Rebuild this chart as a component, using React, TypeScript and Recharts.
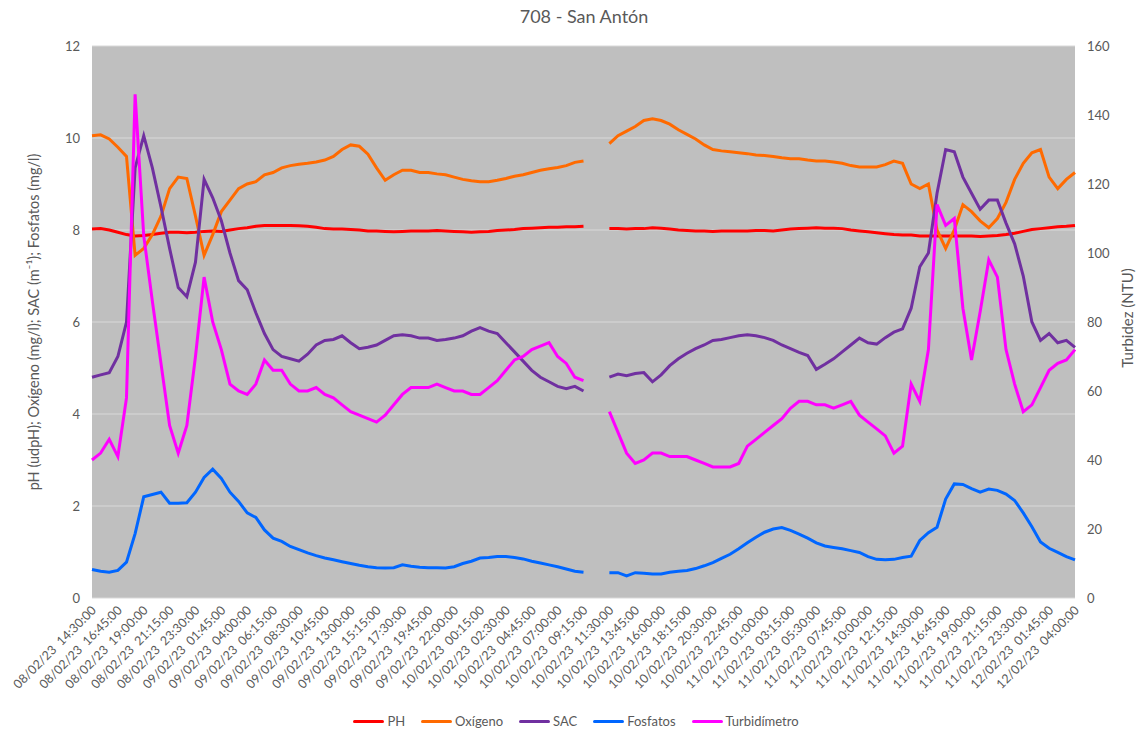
import { LineChart, Line, XAxis, YAxis, CartesianGrid, Legend } from 'recharts';

// one sample every 45 min, starting 08/02/23 14:30 (index k)
const tickLabels = [
  '08/02/23  14:30:00', '08/02/23  16:45:00', '08/02/23  19:00:00', '08/02/23  21:15:00', '08/02/23  23:30:00',
  '09/02/23  01:45:00', '09/02/23  04:00:00', '09/02/23  06:15:00', '09/02/23  08:30:00', '09/02/23  10:45:00',
  '09/02/23  13:00:00', '09/02/23  15:15:00', '09/02/23  17:30:00', '09/02/23  19:45:00', '09/02/23  22:00:00',
  '10/02/23  00:15:00', '10/02/23  02:30:00', '10/02/23  04:45:00', '10/02/23  07:00:00', '10/02/23  09:15:00',
  '10/02/23  11:30:00', '10/02/23  13:45:00', '10/02/23  16:00:00', '10/02/23  18:15:00', '10/02/23  20:30:00',
  '10/02/23  22:45:00', '11/02/23  01:00:00', '11/02/23  03:15:00', '11/02/23  05:30:00', '11/02/23  07:45:00',
  '11/02/23  10:00:00', '11/02/23  12:15:00', '11/02/23  14:30:00', '11/02/23  16:45:00', '11/02/23  19:00:00',
  '11/02/23  21:15:00', '11/02/23  23:30:00', '12/02/23  01:45:00', '12/02/23  04:00:00',
];

const ph = [
  8.02, 8.03, 8.0, 7.95, 7.9, 7.87, 7.88, 7.9, 7.93, 7.95,
  7.95, 7.94, 7.95, 7.97, 7.98, 7.97, 8.0, 8.03, 8.05, 8.08,
  8.1, 8.1, 8.1, 8.1, 8.09, 8.08, 8.06, 8.03, 8.02, 8.02,
  8.01, 8.0, 7.98, 7.98, 7.97, 7.96, 7.97, 7.98, 7.98, 7.98,
  7.99, 7.98, 7.97, 7.96, 7.95, 7.96, 7.97, 7.99, 8.0, 8.01,
  8.03, 8.04, 8.05, 8.06, 8.06, 8.07, 8.07, 8.08, null, null,
  8.03, 8.03, 8.02, 8.03, 8.03, 8.05, 8.04, 8.02, 8.0, 7.99,
  7.98, 7.98, 7.97, 7.98, 7.98, 7.98, 7.98, 7.99, 7.99, 7.98,
  8.0, 8.02, 8.03, 8.04, 8.05, 8.04, 8.04, 8.03, 8.0, 7.98,
  7.96, 7.94, 7.92, 7.9, 7.89, 7.89, 7.87, 7.87, 7.87, 7.87,
  7.87, 7.87, 7.87, 7.86, 7.87, 7.88, 7.9, 7.93, 7.97, 8.01,
  8.03, 8.05, 8.07, 8.08, 8.1,
];

const oxigeno = [
  10.05, 10.07, 9.98, 9.8, 9.6, 7.45, 7.6, 7.9, 8.3, 8.9,
  9.15, 9.12, 8.3, 7.45, 7.9, 8.4, 8.65, 8.9, 9.0, 9.05,
  9.2, 9.25, 9.35, 9.4, 9.43, 9.45, 9.48, 9.52, 9.6, 9.75,
  9.85, 9.82, 9.65, 9.35, 9.08, 9.2, 9.3, 9.3, 9.25, 9.25,
  9.22, 9.2, 9.15, 9.1, 9.07, 9.05, 9.05, 9.08, 9.12, 9.17,
  9.2, 9.25, 9.3, 9.33, 9.36, 9.4, 9.47, 9.5, null, null,
  9.88, 10.05, 10.15, 10.25, 10.38, 10.42, 10.38, 10.3, 10.18, 10.08,
  9.98, 9.85, 9.75, 9.72, 9.7, 9.68, 9.66, 9.63, 9.62, 9.6,
  9.57, 9.55, 9.55, 9.52, 9.5, 9.5, 9.48, 9.45, 9.4, 9.37,
  9.37, 9.37, 9.42, 9.5, 9.45, 9.0, 8.9, 9.0, 8.0, 7.6,
  8.0, 8.55, 8.4, 8.2, 8.05, 8.25, 8.6, 9.1, 9.45, 9.68,
  9.75, 9.15, 8.9, 9.1, 9.25,
];

const sac = [
  4.8, 4.85, 4.9, 5.25, 6.0, 9.35, 10.05, 9.35, 8.5, 7.6,
  6.75, 6.55, 7.3, 9.1, 8.7, 8.2, 7.5, 6.9, 6.7, 6.2,
  5.75, 5.4, 5.25, 5.2, 5.15, 5.3, 5.5, 5.6, 5.62, 5.7,
  5.55, 5.42, 5.45, 5.5, 5.6, 5.7, 5.72, 5.7, 5.65, 5.65,
  5.6, 5.62, 5.65, 5.7, 5.8, 5.88, 5.8, 5.75, 5.55, 5.35,
  5.15, 4.95, 4.8, 4.7, 4.6, 4.55, 4.6, 4.5, null, null,
  4.8, 4.87, 4.83, 4.88, 4.9, 4.7, 4.85, 5.05, 5.2, 5.32,
  5.42, 5.5, 5.6, 5.62, 5.66, 5.7, 5.72, 5.7, 5.66, 5.6,
  5.5, 5.42, 5.34, 5.27, 4.97, 5.08, 5.2, 5.35, 5.5, 5.65,
  5.55, 5.52, 5.66, 5.78, 5.85, 6.3, 7.2, 7.5, 8.8, 9.75,
  9.7, 9.15, 8.8, 8.45, 8.65, 8.65, 8.15, 7.7, 7.0, 6.0,
  5.6, 5.75, 5.55, 5.6, 5.45,
];

const fosfatos = [
  0.62, 0.58, 0.56, 0.6, 0.78, 1.4, 2.2, 2.25, 2.3, 2.06,
  2.06, 2.07, 2.3, 2.62, 2.8, 2.6, 2.3, 2.1, 1.85, 1.75,
  1.48, 1.3, 1.23, 1.12, 1.05, 0.98, 0.92, 0.87, 0.83, 0.79,
  0.75, 0.71, 0.68, 0.66, 0.65, 0.66, 0.72, 0.69, 0.67, 0.66,
  0.66, 0.65, 0.68, 0.75, 0.8, 0.87, 0.88, 0.9, 0.9, 0.88,
  0.85, 0.8, 0.76, 0.72, 0.68, 0.63, 0.58, 0.56, null, null,
  0.55, 0.55, 0.48, 0.55, 0.54, 0.52, 0.52, 0.56, 0.58, 0.6,
  0.64, 0.7, 0.77, 0.86, 0.95, 1.07, 1.2, 1.32, 1.43, 1.5,
  1.53, 1.47, 1.39, 1.3, 1.2, 1.13, 1.1, 1.07, 1.03, 0.99,
  0.9, 0.84, 0.83, 0.84, 0.88, 0.91, 1.25, 1.42, 1.54, 2.15,
  2.48, 2.47, 2.38, 2.3, 2.37, 2.34, 2.26, 2.12, 1.85, 1.55,
  1.22, 1.08, 0.99, 0.9, 0.83,
];

const turbidimetro = [
  40, 42, 46, 41, 58, 146, 105, 86, 68, 50,
  42, 50, 70, 93, 80, 72, 62, 60, 59, 62,
  69, 66, 66, 62, 60, 60, 61, 59, 58, 56,
  54, 53, 52, 51, 53, 56, 59, 61, 61, 61,
  62, 61, 60, 60, 59, 59, 61, 63, 66, 69,
  70, 72, 73, 74, 70, 68, 64, 63, null, null,
  54, 48, 42, 39, 40, 42, 42, 41, 41, 41,
  40, 39, 38, 38, 38, 39, 44, 46, 48, 50,
  52, 55, 57, 57, 56, 56, 55, 56, 57, 53,
  51, 49, 47, 42, 44, 62, 57, 72, 114, 108,
  110, 84, 69, 83, 98, 93, 72, 62, 54, 56,
  61, 66, 68, 69, 72,
];

const data = ph.map((v, k) => ({
  k,
  ph: v,
  oxigeno: oxigeno[k],
  sac: sac[k],
  fosfatos: fosfatos[k],
  turbidimetro: turbidimetro[k],
}));

const xTicks = tickLabels.map((_, j) => j * 3);

const FONT = 'Lato, "Noto Sans", sans-serif';
const TEXT = '#595959';

const series = [
  { key: 'ph', name: 'PH', color: '#ff0000', axis: 'left' },
  { key: 'oxigeno', name: 'Oxígeno', color: '#ff6a00', axis: 'left' },
  { key: 'sac', name: 'SAC', color: '#7030a0', axis: 'left' },
  { key: 'fosfatos', name: 'Fosfatos', color: '#0066ff', axis: 'left' },
  { key: 'turbidimetro', name: 'Turbidímetro', color: '#ff00ff', axis: 'right' },
];

const DateTick = ({ x, y, payload }: any) => (
  <text
    x={0}
    y={0}
    transform={`translate(${x + 5},${y + 5}) rotate(-45)`}
    textAnchor="end"
    fontSize={12.5}
    fontFamily={FONT}
    fill={TEXT}
    style={{ whiteSpace: 'pre' }}
  >
    {tickLabels[Math.round(payload.value / 3)]}
  </text>
);

const renderLegend = () => (
  <div
    style={{
      height: 26,
      display: 'flex',
      justifyContent: 'center',
      alignItems: 'center',
      paddingLeft: 8,
      fontFamily: FONT,
      fontSize: 13,
      color: TEXT,
    }}
  >
    {series.map((s) => (
      <div key={s.key} style={{ display: 'flex', alignItems: 'center', margin: '0 8px' }}>
        <span style={{ width: 31, height: 3, background: s.color, borderRadius: 2, marginRight: 3 }} />
        <span>{s.name}</span>
      </div>
    ))}
  </div>
);

const App = () => {
  return (
    <div style={{ position: 'absolute', left: 0, top: 0, width: 1144, height: 742, background: '#fff' }}>
      <LineChart width={1144} height={742} data={data} margin={{ top: 46, right: 0, left: 0, bottom: 8 }}>
        <CartesianGrid yAxisId="left" vertical={false} fill="#bfbfbf" stroke="#d9d9d9" strokeWidth={1} />
        <XAxis
          dataKey="k"
          type="number"
          domain={[0, 114]}
          ticks={xTicks}
          interval={0}
          height={110}
          axisLine={false}
          tickLine={false}
          tick={<DateTick />}
        />
        <YAxis
          yAxisId="left"
          domain={[0, 12]}
          ticks={[0, 2, 4, 6, 8, 10, 12]}
          width={92}
          axisLine={false}
          tickLine={false}
          tickMargin={6}
          tick={{ fontSize: 13, fill: TEXT, fontFamily: FONT }}
        />
        <YAxis
          yAxisId="right"
          orientation="right"
          domain={[0, 160]}
          ticks={[0, 20, 40, 60, 80, 100, 120, 140, 160]}
          width={69}
          axisLine={false}
          tickLine={false}
          tickMargin={6}
          tick={{ fontSize: 13, fill: TEXT, fontFamily: FONT }}
        />
        <Legend verticalAlign="bottom" content={renderLegend} />
        {series.map((s) => (
          <Line
            key={s.key}
            yAxisId={s.axis}
            dataKey={s.key}
            name={s.name}
            type="linear"
            stroke={s.color}
            strokeWidth={3}
            dot={false}
            activeDot={false}
            isAnimationActive={false}
          />
        ))}
      </LineChart>
      <div
        style={{
          position: 'absolute',
          left: 584,
          top: 5,
          transform: 'translateX(-50%)',
          fontFamily: FONT,
          fontSize: 18,
          color: TEXT,
          whiteSpace: 'nowrap',
        }}
      >
        708 - San Antón
      </div>
      <div
        style={{
          position: 'absolute',
          left: 33,
          top: 322,
          transform: 'translate(-50%, -50%) rotate(-90deg)',
          fontFamily: FONT,
          fontSize: 14.5,
          color: TEXT,
          whiteSpace: 'nowrap',
        }}
      >
        pH (udpH); Oxígeno (mg/l); SAC (m⁻¹); Fosfatos (mg/l)
      </div>
      <div
        style={{
          position: 'absolute',
          left: 1127,
          top: 318,
          transform: 'translate(-50%, -50%) rotate(-90deg)',
          fontFamily: FONT,
          fontSize: 15,
          color: TEXT,
          whiteSpace: 'nowrap',
        }}
      >
        Turbidez (NTU)
      </div>
    </div>
  );
};

export default App;
